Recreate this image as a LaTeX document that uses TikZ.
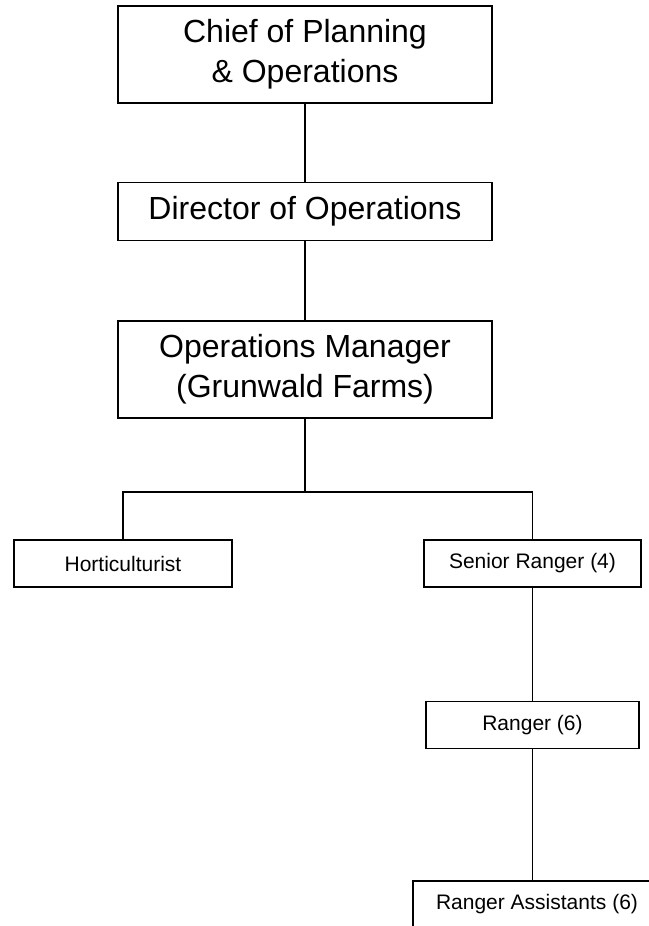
\documentclass[tikz,border=0pt]{standalone}
\usepackage{fontspec}
\setmainfont{Liberation Sans}
\usetikzlibrary{positioning}

\tikzset{
  bigbox/.style={draw, line width=1.8pt, minimum width=374pt, align=center,
    font=\fontsize{32}{40}\selectfont},
  smallbox/.style={draw, line width=1.6pt, minimum height=47pt,
    font=\fontsize{21}{25}\selectfont},
  link/.style={line width=1.4pt}
}

\begin{document}
\begin{tikzpicture}[x=1pt, y=-1pt]
    \useasboundingbox (0,0) rectangle (648,926);

    \node [bigbox, minimum height=97pt] (chief) at (305,54.5) {Chief of Planning\\ \& Operations};
    \node [bigbox, line width=1.3pt, minimum height=58pt, below=78pt of chief] (director) {Director of Operations};
    \node [bigbox, minimum height=97pt, below=79pt of director] (manager) {Operations Manager\\ (Grunwald Farms)};

    \node [smallbox, minimum width=218pt] (horti) at (123,563.5) {Horticulturist};
    \node [smallbox, minimum width=217pt] (senior) at (532.5,563.5) {Senior Ranger (4)};
    \node [smallbox, line width=1.3pt, minimum width=213pt, below=113pt of senior] (ranger) {Ranger (6)};
    \node [smallbox, line width=1.3pt, minimum width=248pt] (assist) at (537,904.5) {Ranger Assistants (6)};

    % branch point under the manager
    \coordinate (split) at (305,492);

    \draw [link] (chief) -- (director);
    \draw [link] (director) -- (manager);
    \draw [link] (manager) -- (split);
    \draw [link] (horti.north) |- (split) -| (senior.north);
    \draw [link] (senior) -- (ranger);
    \draw [link] (ranger.south) -- (ranger.south |- assist.north);

\end{tikzpicture}
\end{document}
